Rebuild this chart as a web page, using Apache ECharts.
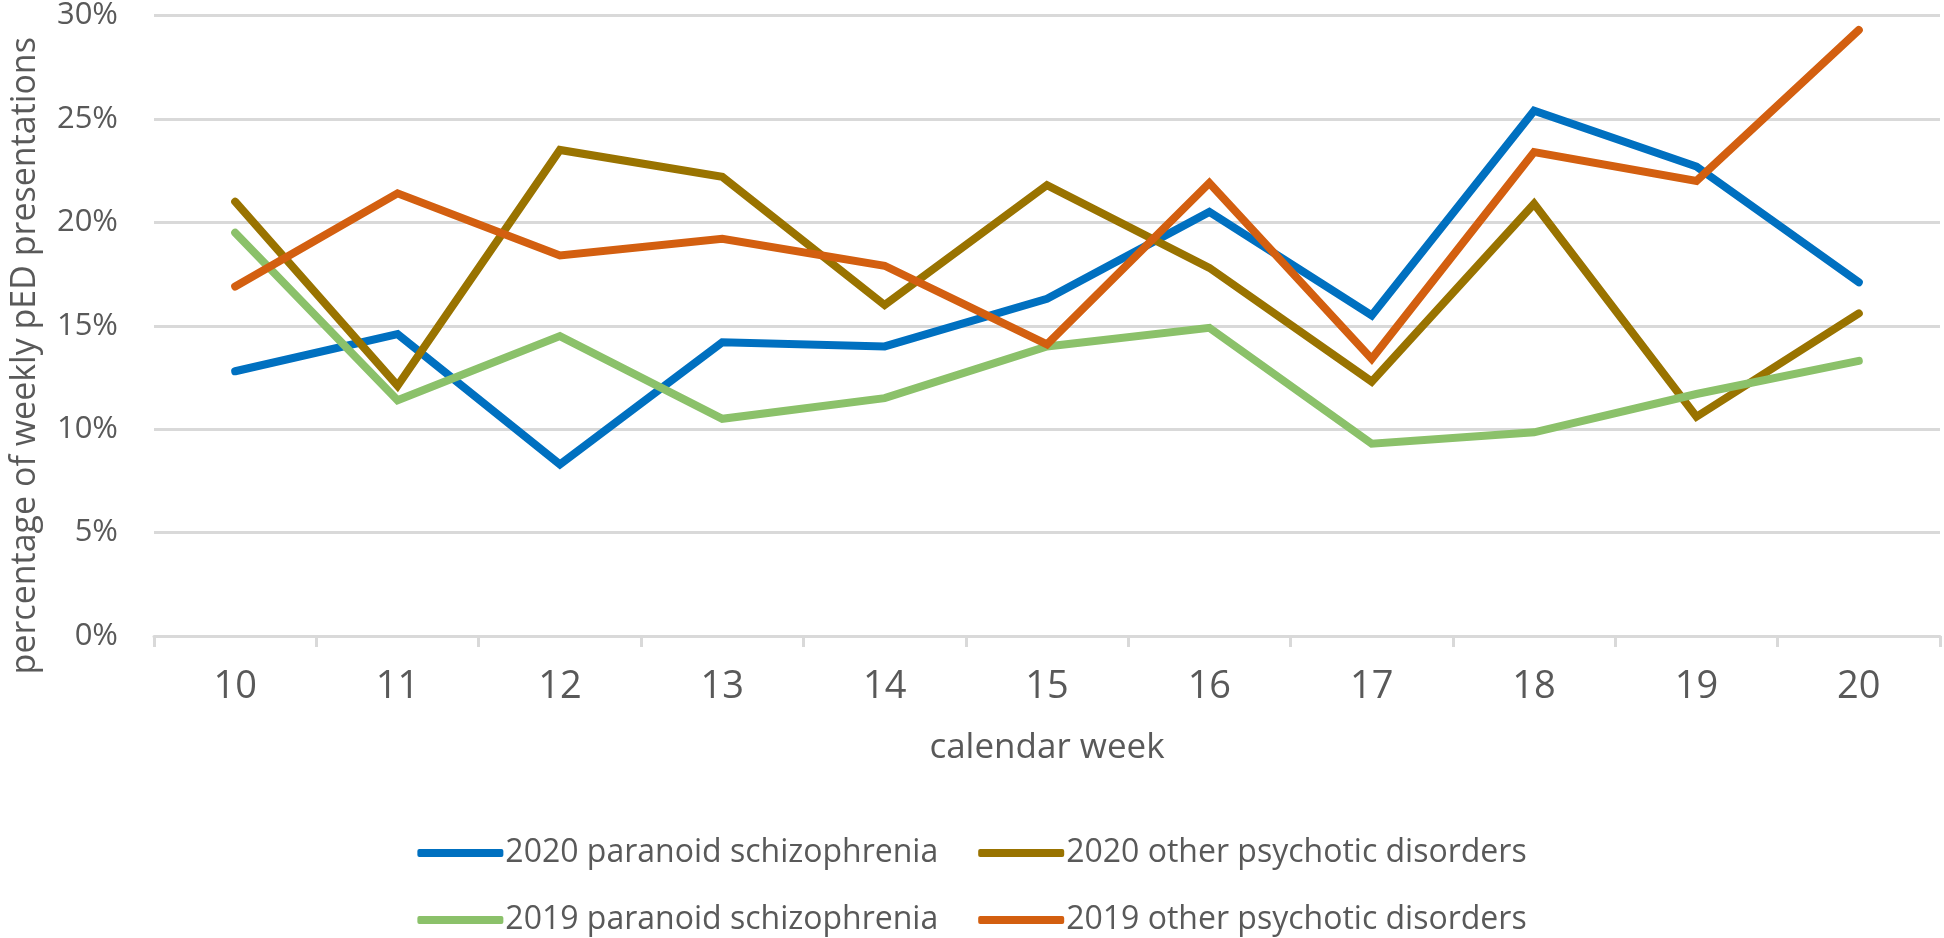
<!DOCTYPE html>
<html>
<head>
<meta charset="utf-8">
<script src="https://cdn.jsdelivr.net/npm/echarts@6/dist/echarts.min.js"></script>
<style>
html,body{margin:0;padding:0;background:#fff;}
#chart{width:1944px;height:938px;}
</style>
</head>
<body>
<div id="chart"></div>
<script>
const weeks = ['10','11','12','13','14','15','16','17','18','19','20'];
const para2020 = [12.8, 14.6, 8.3, 14.2, 14.0, 16.3, 20.5, 15.5, 25.4, 22.7, 17.1];
const other2020 = [21.0, 12.1, 23.5, 22.2, 16.0, 21.8, 17.8, 12.3, 20.9, 10.6, 15.6];
const para2019 = [19.5, 11.4, 14.5, 10.5, 11.5, 14.0, 14.9, 9.3, 9.85, 11.7, 13.3];
const other2019 = [16.9, 21.4, 18.4, 19.2, 17.9, 14.1, 21.9, 13.4, 23.4, 22.0, 29.3];
const seriesNames = ['2020 paranoid schizophrenia','2020 other psychotic disorders','2019 paranoid schizophrenia','2019 other psychotic disorders'];
const yTicks = {min:0, max:30, interval:5};

const colors = ['#0070C0','#997300','#8BC16A','#D35F10'];
const font = 'Open Sans';
const txt = '#595959';

const chart = echarts.init(document.getElementById('chart'));
const legendCommon = {
  left:'center', itemWidth:86, itemHeight:8, itemGap:40, icon:'roundRect',
  textStyle:{fontFamily:font, fontSize:32, color:txt, padding:[0,0,0,-3]}
};
chart.setOption({
  animation:false,
  color:colors,
  grid:{left:149, right:4, top:13, bottom:302, containLabel:false},
  legend:[
    Object.assign({top:832, data:[seriesNames[0], seriesNames[1]]}, legendCommon),
    Object.assign({top:899, data:[seriesNames[2], seriesNames[3]]}, legendCommon)
  ],
  xAxis:{
    type:'category', data:weeks, boundaryGap:true,
    name:'calendar week', nameLocation:'middle', nameGap:95,
    nameTextStyle:{fontFamily:font, fontSize:35, color:txt},
    axisLine:{lineStyle:{color:'#D9D9D9', width:3}},
    axisTick:{show:true, length:11, lineStyle:{color:'#D9D9D9', width:3}},
    axisLabel:{fontFamily:font, fontSize:38, color:txt, margin:32}
  },
  yAxis:{
    type:'value', min:yTicks.min, max:yTicks.max, interval:yTicks.interval,
    name:'percentage of weekly pED presentations', nameLocation:'middle', nameGap:112,
    nameTextStyle:{fontFamily:font, fontSize:34, color:txt, padding:[0,60,0,0]},
    axisLine:{show:false}, axisTick:{show:false},
    axisLabel:{fontFamily:font, fontSize:31, color:txt, margin:36, formatter:'{value}%'},
    splitLine:{lineStyle:{color:'#D9D9D9', width:3}}
  },
  series:[para2020, other2020, para2019, other2019].map((d,i)=>({
    name:seriesNames[i], type:'line', data:d, symbol:'none', smooth:false,
    lineStyle:{width:8, color:colors[i], cap:'round', join:'miter'},
    itemStyle:{color:colors[i]}
  }))
});
</script>
</body>
</html>
